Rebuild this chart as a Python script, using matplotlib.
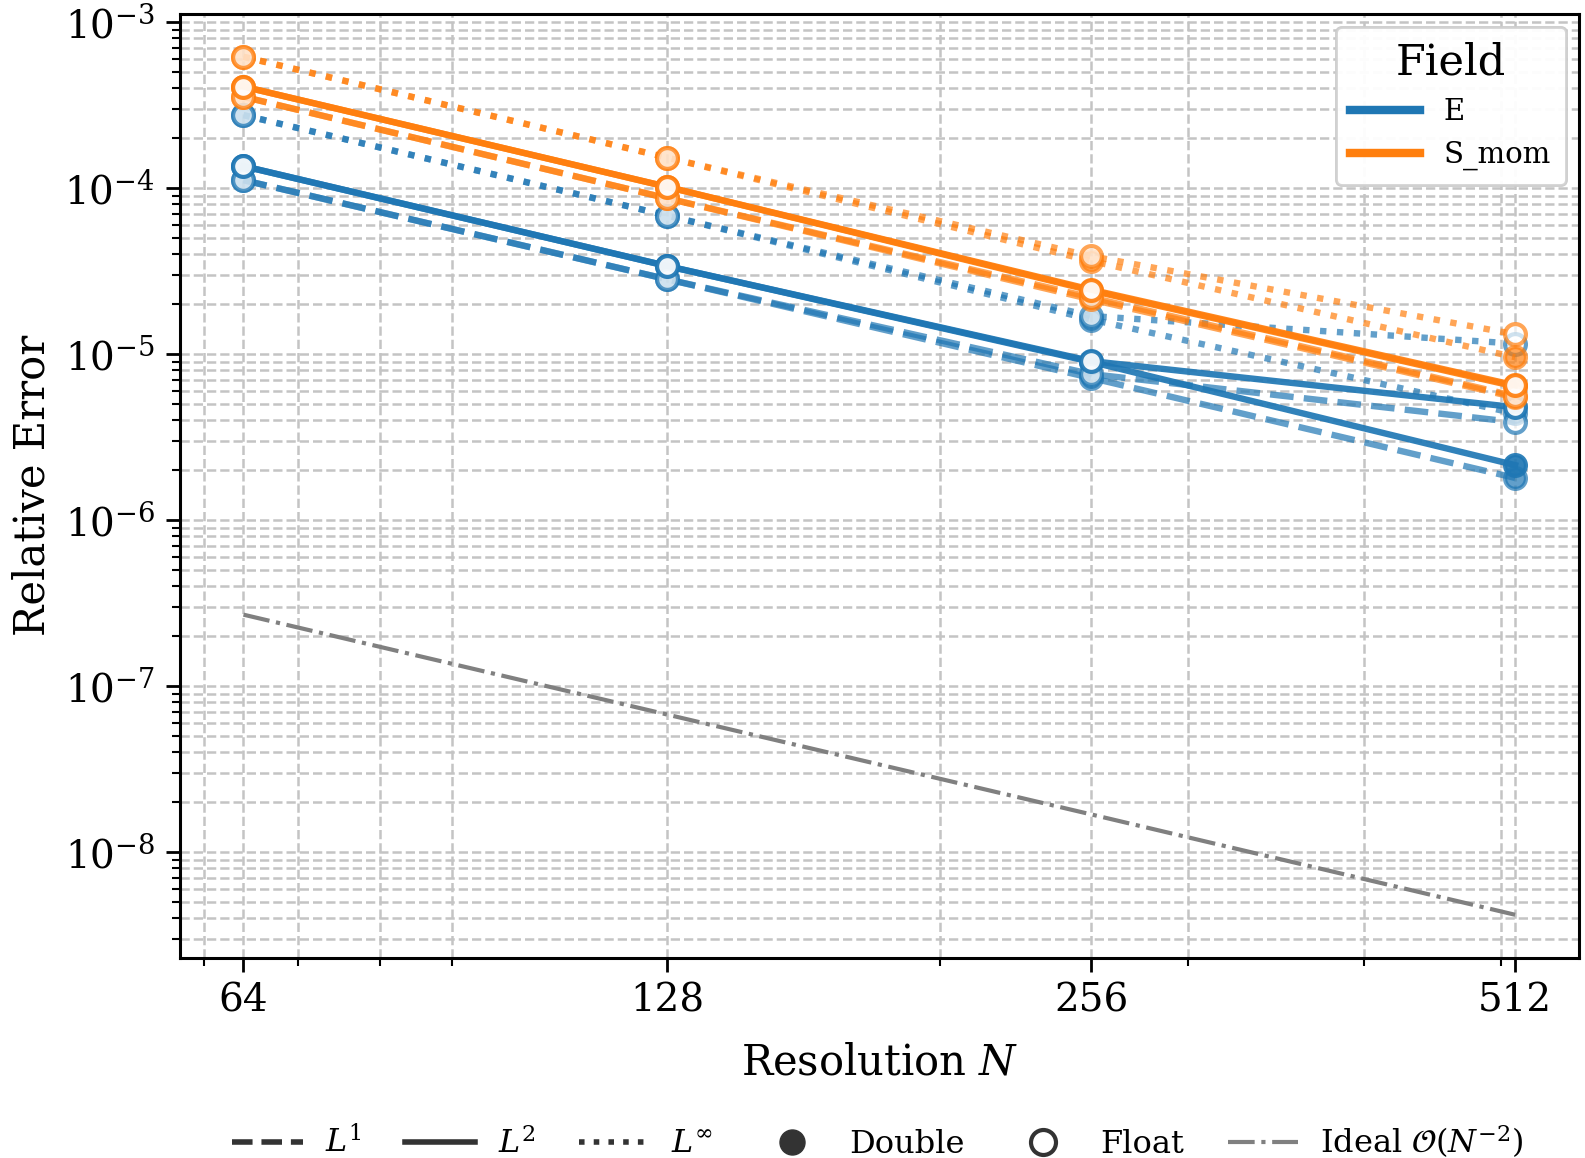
import matplotlib
matplotlib.use("Agg")
import matplotlib.pyplot as plt
from matplotlib.lines import Line2D
from matplotlib.ticker import NullFormatter, FixedLocator, FixedFormatter

plt.rcParams['font.family'] = ['DejaVu Serif']
plt.rcParams['mathtext.fontset'] = 'dejavuserif'

# resolutions
N = [64, 128, 256, 512]

# field E (blue)
E_L1_double = [1.12e-4, 2.83e-5, 7.2e-6, 1.8e-6]
E_L1_float = [1.12e-4, 2.83e-5, 7.6e-6, 3.9e-6]
E_L2_double = [1.36e-4, 3.4e-5, 9.0e-6, 2.15e-6]
E_L2_float = [1.36e-4, 3.4e-5, 9.1e-6, 4.8e-6]
E_Linf_double = [2.76e-4, 6.85e-5, 1.62e-5, 4.4e-6]
E_Linf_float = [2.76e-4, 6.85e-5, 1.7e-5, 1.16e-5]

# field S_mom (orange)
S_L1_double = [3.56e-4, 8.7e-5, 2.14e-5, 5.5e-6]
S_L1_float = [3.56e-4, 8.7e-5, 2.2e-5, 5.6e-6]
S_L2_double = [4.1e-4, 1.02e-4, 2.42e-5, 6.4e-6]
S_L2_float = [4.1e-4, 1.02e-4, 2.45e-5, 6.5e-6]
S_Linf_double = [6.2e-4, 1.53e-4, 3.65e-5, 9.6e-6]
S_Linf_float = [6.2e-4, 1.53e-4, 3.9e-5, 1.32e-5]

# ideal O(N^-2) reference
ideal = [2.7e-7, 6.75e-8, 1.69e-8, 4.2e-9]

fields = {
    'E': ('#1f77b4', {'L1': (E_L1_double, E_L1_float),
                      'L2': (E_L2_double, E_L2_float),
                      'Linf': (E_Linf_double, E_Linf_float)}),
    'S_mom': ('#ff7f0e', {'L1': (S_L1_double, S_L1_float),
                          'L2': (S_L2_double, S_L2_float),
                          'Linf': (S_Linf_double, S_Linf_float)}),
}
styles = {'L1': '--', 'L2': '-', 'Linf': ':'}
alphas = {'L1': 0.7, 'L2': 0.92, 'Linf': 0.7}


def make_plot():
    fig = plt.figure(figsize=(15.85, 11.58), dpi=100)
    ax = fig.add_axes([0.1135, 0.173, 0.8825, 0.815])

    # doubles first, floats drawn on top
    for name, (color, norms) in fields.items():
        for norm in ['L1', 'L2', 'Linf']:
            dbl, flt = norms[norm]
            ax.plot(N, dbl, ls=styles[norm], color=color, lw=4.6, alpha=alphas[norm],
                    marker='o', ms=15, mew=3, mfc=color, mec=color)
        for norm in ['L1', 'L2', 'Linf']:
            dbl, flt = norms[norm]
            ax.plot(N, flt, ls=styles[norm], color=color, lw=4.6, alpha=alphas[norm],
                    marker='o', ms=15, mew=3, mfc='white', mec=color)

    ax.plot(N, ideal, ls='-.', color='gray', lw=3)

    ax.set_xscale('log')
    ax.set_yscale('log')
    ax.xaxis.set_major_locator(FixedLocator(N))
    ax.xaxis.set_major_formatter(FixedFormatter([str(n) for n in N]))
    ax.xaxis.set_minor_formatter(NullFormatter())

    ax.grid(True, which='both', ls='--', lw=1.8, color='#c4c4c4')
    ax.set_axisbelow(True)

    for sp in ax.spines.values():
        sp.set_linewidth(2.2)
    ax.tick_params(which='major', length=10, width=2, labelsize=28, pad=8)
    ax.tick_params(which='minor', length=6, width=1.5)

    ax.set_xlabel('Resolution $N$', fontsize=30, labelpad=16)
    ax.set_ylabel('Relative Error', fontsize=30, labelpad=8)

    # legend for fields
    field_handles = [Line2D([0], [0], color=c, lw=6, label=n) for n, (c, _) in fields.items()]
    leg1 = ax.legend(handles=field_handles, title='Field', loc='upper right',
                     fontsize=21, title_fontsize=31, handlelength=2.4,
                     borderaxespad=0.45, labelspacing=0.5, borderpad=0.5)
    leg1.get_frame().set_linewidth(2)
    ax.add_artist(leg1)

    # legend for norms / precision / ideal
    k = '#333333'
    style_handles = [
        Line2D([0], [0], color=k, ls='--', lw=4, label='$L^1$'),
        Line2D([0], [0], color=k, ls='-', lw=4, label='$L^2$'),
        Line2D([0], [0], color=k, ls=':', lw=4, label='$L^\\infty$'),
        Line2D([0], [0], color=k, ls='none', marker='o', ms=18, label='Double'),
        Line2D([0], [0], color=k, ls='none', marker='o', ms=18, mfc='white', mew=3, label='Float'),
        Line2D([0], [0], color='gray', ls='-.', lw=3, label='Ideal $\\mathcal{O}(N^{-2})$'),
    ]
    fig.legend(handles=style_handles, loc='center', bbox_to_anchor=(0.554, 0.014),
               ncol=6, frameon=False, fontsize=23, handlelength=2.2, columnspacing=1.35,
               handletextpad=0.7)

    fig.savefig('out.png', dpi=100)


if __name__ == "__main__":
    make_plot()
